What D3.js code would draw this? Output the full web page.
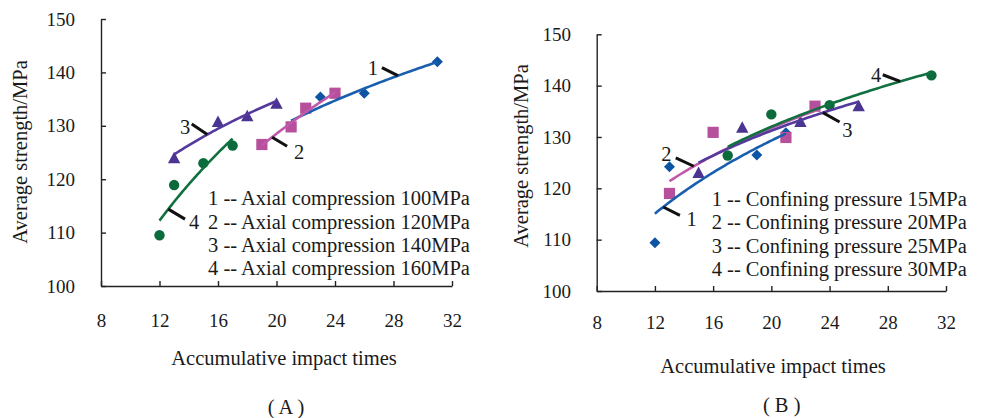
<!DOCTYPE html>
<html><head><meta charset="utf-8">
<script src="https://cdn.jsdelivr.net/npm/d3@7"></script>
<style>body{margin:0;background:#fff}svg{display:block}</style>
</head><body><svg id="c" width="983" height="418"></svg>
<script>
// ---------- data ----------
const xTicks = [8, 12, 16, 20, 24, 28, 32];
const yTicks = [100, 110, 120, 130, 140, 150];
const xTitle = "Accumulative impact times";
const yTitle = "Average strength/MPa";
const seriesIds = ["1", "2", "3", "4"];

// Panel A : axial compression
const legendA = ["1 -- Axial compression 100MPa", "2 -- Axial compression 120MPa",
                 "3 -- Axial compression 140MPa", "4 -- Axial compression 160MPa"];
const a1x = [21, 23, 26, 31],  a1y = [129.9, 135.4, 136.1, 142.0];
const a2x = [19, 21, 22, 24],  a2y = [126.5, 129.8, 133.3, 136.1];
const a3x = [13, 16, 18, 20],  a3y = [124.0, 130.8, 131.9, 134.2];
const a4x = [12, 13, 15, 17],  a4y = [109.5, 118.9, 123.0, 126.3];

// Panel B : confining pressure
const legendB = ["1 -- Confining pressure 15MPa", "2 -- Confining pressure 20MPa",
                 "3 -- Confining pressure 25MPa", "4 -- Confining pressure 30MPa"];
const b1x = [12, 13, 19, 21],  b1y = [109.4, 124.2, 126.5, 130.8];
const b2x = [13, 16, 21, 23],  b2y = [119.0, 130.9, 129.9, 136.0];
const b3x = [15, 18, 22, 26],  b3y = [123.1, 131.9, 133.0, 136.1];
const b4x = [17, 20, 24, 31],  b4y = [126.4, 134.4, 136.2, 142.0];

const panelLabels = ["( A )", "( B )"];

// ---------- style ----------
const markerColors = ["#0d54a5", "#b64f9c", "#4c3492", "#0b6b3a"];
const lineColors   = ["#1a5eb0", "#c059aa", "#553a9e", "#117040"];
const shapes = ["diamond", "square", "triangle", "circle"];
const FONT = "'Liberation Serif','Times New Roman',serif";

const svg = d3.select("#c");
svg.append("rect").attr("width", 983).attr("height", 418).attr("fill", "#fff");

function logFit(xs, ys) {
  const lx = xs.map(Math.log);
  const mx = d3.mean(lx), my = d3.mean(ys);
  let sxy = 0, sxx = 0;
  lx.forEach((v, i) => { sxy += (v - mx) * (ys[i] - my); sxx += (v - mx) * (v - mx); });
  const b = sxy / sxx, a = my - b * mx;
  return x => a + b * Math.log(x);
}

function markerPath(shape) {
  if (shape === "diamond") return "M0,-5.5L5.5,0L0,5.5L-5.5,0Z";
  if (shape === "square") return "M-5.6,-5.6H5.6V5.6H-5.6Z";
  if (shape === "triangle") return "M0,-6L6.2,5.5L-6.2,5.5Z";
  return "M5.2,0A5.2,5.2 0 1,1 -5.2,0A5.2,5.2 0 1,1 5.2,0Z";
}

function drawPanel(cfg) {
  const x = d3.scaleLinear().domain([xTicks[0], xTicks[xTicks.length - 1]]).range(cfg.xr);
  const y = d3.scaleLinear().domain([yTicks[0], yTicks[yTicks.length - 1]]).range(cfg.yr);
  const g = svg.append("g");

  const xa = g.append("g").attr("transform", `translate(0,${cfg.yr[0]})`)
    .call(d3.axisBottom(x).tickValues(xTicks).tickSizeInner(-5).tickSizeOuter(0).tickPadding(cfg.xPad));
  const ya = g.append("g").attr("transform", `translate(${cfg.xr[0]},0)`)
    .call(d3.axisLeft(y).tickValues(yTicks).tickSizeInner(-5).tickSizeOuter(0).tickPadding(cfg.yPad));
  [xa, ya].forEach(a => {
    a.selectAll("path,line").attr("stroke", "#222").attr("stroke-width", 1.4);
    a.selectAll("text").attr("font-family", FONT).attr("font-size", 19).attr("fill", "#1a1a1a");
  });

  g.append("text").attr("x", cfg.titleX).attr("y", cfg.titleY)
    .attr("text-anchor", "middle").attr("dominant-baseline", "central")
    .attr("font-family", FONT).attr("font-size", 20.5).attr("fill", "#1a1a1a").text(xTitle);
  g.append("text").attr("transform", `translate(${cfg.yTitleX},${cfg.yTitleY}) rotate(-90)`)
    .attr("text-anchor", "middle").attr("dominant-baseline", "central")
    .attr("font-family", FONT).attr("font-size", 20.5).attr("fill", "#1a1a1a").text(yTitle);
  g.append("text").attr("x", cfg.labX).attr("y", cfg.labY)
    .attr("text-anchor", "middle").attr("dominant-baseline", "central")
    .attr("font-family", FONT).attr("font-size", 20.5).attr("fill", "#1a1a1a").text(cfg.label);

  // markers
  cfg.series.forEach((s, i) => {
    g.append("g").selectAll("path").data(s.xs.map((v, j) => [v, s.ys[j]])).join("path")
      .attr("d", markerPath(shapes[i]))
      .attr("transform", d => `translate(${x(d[0])},${y(d[1])})`)
      .attr("fill", markerColors[i]);
  });
  // trend lines (logarithmic fit of each series)
  const fits = cfg.series.map(s => logFit(s.xs, s.ys));
  cfg.series.forEach((s, i) => {
    const lo = d3.min(s.xs), hi = d3.max(s.xs);
    const pts = d3.range(0, 61).map(k => lo + (hi - lo) * k / 60);
    g.append("path").attr("fill", "none").attr("stroke", lineColors[i]).attr("stroke-width", 2.6)
      .attr("d", d3.line().x(d => x(d)).y(d => y(fits[i](d)))(pts));
  });
  // callouts
  cfg.callouts.forEach(c => {
    const px = x(c.at), py = y(fits[c.s](c.at));
    const ex = px + c.dx, ey = py + c.dy;
    g.append("line").attr("x1", px).attr("y1", py).attr("x2", ex).attr("y2", ey)
      .attr("stroke", "#111").attr("stroke-width", 3);
    g.append("text").attr("x", ex + c.tx).attr("y", ey + c.ty)
      .attr("text-anchor", c.tx < 0 ? "end" : "start").attr("dominant-baseline", "central")
      .attr("font-family", FONT).attr("font-size", 20.5).attr("fill", "#1a1a1a").text(seriesIds[c.s]);
  });
  // legend text
  cfg.legend.forEach((t, i) => {
    g.append("text").attr("x", cfg.legX).attr("y", cfg.legY[i])
      .attr("dominant-baseline", "central")
      .attr("font-family", FONT).attr("font-size", 20.5).attr("fill", "#1a1a1a").text(t);
  });
}

drawPanel({
  xr: [101, 452], yr: [286, 19], xPad: 28, yPad: 26,
  titleX: 284, titleY: 358, yTitleX: 20, yTitleY: 152, labX: 286, labY: 407, label: panelLabels[0],
  series: [{xs: a1x, ys: a1y}, {xs: a2x, ys: a2y}, {xs: a3x, ys: a3y}, {xs: a4x, ys: a4y}],
  callouts: [
    {s: 0, at: 28.3, dx: -16, dy: -8, tx: -4, ty: 0},
    {s: 1, at: 19.7, dx: 15, dy: 9, tx: 7, ty: 6},
    {s: 2, at: 15.27, dx: -15.6, dy: -10.5, tx: -1.5, ty: 3},
    {s: 3, at: 12.6, dx: 16.7, dy: 10, tx: 4, ty: 2.5}
  ],
  legend: legendA, legX: 208, legY: [198, 221.5, 245, 268]
});

drawPanel({
  xr: [596.7, 946], yr: [291, 34.3], xPad: 25, yPad: 25.7,
  titleX: 773, titleY: 366, yTitleX: 521, yTitleY: 156, labX: 781.7, labY: 405, label: panelLabels[1],
  series: [{xs: b1x, ys: b1y}, {xs: b2x, ys: b2y}, {xs: b3x, ys: b3y}, {xs: b4x, ys: b4y}],
  callouts: [
    {s: 0, at: 12.57, dx: 16.7, dy: 8.3, tx: 6.7, ty: 4},
    {s: 1, at: 14.67, dx: -18, dy: -8.4, tx: -4.3, ty: -4.3},
    {s: 2, at: 23.54, dx: 16.7, dy: 9.4, tx: 2.7, ty: 8.3},
    {s: 3, at: 28.85, dx: -17.4, dy: -6.7, tx: -1.5, ty: 0}
  ],
  legend: legendB, legX: 711.7, legY: [199, 222.3, 246, 269.3]
});
</script></body></html>
